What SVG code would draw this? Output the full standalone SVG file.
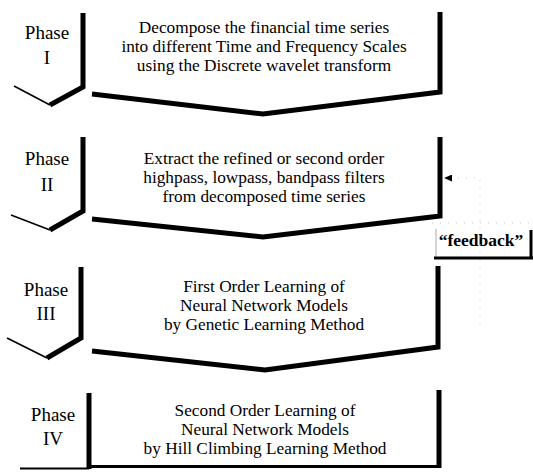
<svg xmlns="http://www.w3.org/2000/svg" width="533" height="472" viewBox="0 0 533 472">
<defs>
<style>
.bg{fill:#fff}
.thick{fill:none;stroke:#000;stroke-width:5;stroke-linejoin:miter;stroke-linecap:butt}
.thin{fill:none;stroke:#000;stroke-width:1.6}
.lbl{font-family:"Liberation Serif","Times New Roman",serif;font-size:19px;fill:#000;text-anchor:middle}
.txt{font-family:"Liberation Serif","Times New Roman",serif;font-size:17.3px;fill:#000;text-anchor:middle}
.fb{font-family:"Liberation Serif","Times New Roman",serif;font-size:17.5px;font-weight:bold;fill:#000;text-anchor:middle}
.faint{fill:none;stroke:#c8c8c8;stroke-width:1;stroke-dasharray:1 7}
</style>
<marker id="ah" markerUnits="userSpaceOnUse" markerWidth="8" markerHeight="7" viewBox="0 0 8 7" refX="0" refY="3.5" orient="auto">
<path d="M0,0 L8,3.5 L0,7 z" fill="#000"/>
</marker>
</defs>
<rect class="bg" x="0" y="0" width="533" height="472"/>

<g id="phase1">
<polyline class="thick" points="83,13 83,87 50,105"/>
<line class="thin" x1="50" y1="105" x2="14" y2="86"/>
<text class="lbl" x="47" y="39">Phase</text>
<text class="lbl" x="47" y="64">I</text>
<polyline class="thick" points="440,12 440,92 263,114 92,94"/>
<text class="txt" x="264" y="33">Decompose the financial time series</text>
<text class="txt" x="264" y="52">into different Time and Frequency Scales</text>
<text class="txt" x="264" y="71">using the Discrete wavelet transform</text>
</g>

<g id="phase2">
<polyline class="thick" points="83,137 83,211 50,230"/>
<line class="thin" x1="50" y1="230" x2="11" y2="215"/>
<text class="lbl" x="47" y="165">Phase</text>
<text class="lbl" x="47" y="191">II</text>
<polyline class="thick" points="440,137 440,216 263,237 92,219"/>
<text class="txt" x="264" y="164">Extract the refined or second order</text>
<text class="txt" x="264" y="183">highpass, lowpass, bandpass filters</text>
<text class="txt" x="264" y="202">from decomposed time series</text>
</g>

<g id="phase3">
<polyline class="thick" points="81,267 81,338 47,358"/>
<line class="thin" x1="47" y1="358" x2="7" y2="338"/>
<text class="lbl" x="46" y="296">Phase</text>
<text class="lbl" x="46" y="320">III</text>
<polyline class="thick" points="438,266 438,347 265,370 92,351"/>
<text class="txt" x="264" y="292">First Order Learning of</text>
<text class="txt" x="264" y="311">Neural Network Models</text>
<text class="txt" x="264" y="330">by Genetic Learning Method</text>
</g>

<g id="phase4">
<line x1="20" y1="468.5" x2="89" y2="468.5" stroke="#000" stroke-width="2"/>
<line class="thick" x1="89" y1="393" x2="89" y2="469"/>
<text class="lbl" x="53" y="421">Phase</text>
<text class="lbl" x="53" y="445">IV</text>
<line x1="89" y1="466.5" x2="441" y2="466.5" stroke="#000" stroke-width="3"/>
<line class="thick" x1="439" y1="390" x2="439" y2="468"/>
<text class="txt" x="265" y="416">Second Order Learning of</text>
<text class="txt" x="265" y="435">Neural Network Models</text>
<text class="txt" x="265" y="454">by Hill Climbing Learning Method</text>
</g>

<g id="feedback">
<line class="faint" x1="432" y1="223" x2="530" y2="223"/>
<line x1="436" y1="229" x2="436" y2="258" stroke="#aaa" stroke-width="1"/>
<line x1="434" y1="258" x2="533" y2="258" stroke="#000" stroke-width="3"/>
<line x1="531" y1="230" x2="531" y2="259" stroke="#000" stroke-width="3"/>
<text class="fb" x="481" y="246">“feedback”</text>
</g>

<g id="connectors">
<path class="faint" d="M480,325 V178 H452" marker-end="url(#ah)"/>
</g>
</svg>
